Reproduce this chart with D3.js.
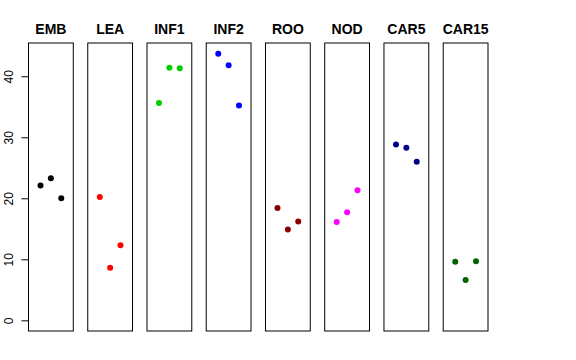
<!DOCTYPE html>
<html>
<head>
<meta charset="utf-8">
<script src="https://d3js.org/d3.v7.min.js"></script>
<style>
  body { margin: 0; background: #fff; }
  svg { display: block; font-family: "Liberation Sans", Arial, sans-serif; }
</style>
</head>
<body>
<svg width="576" height="360"></svg>
<script>
// one column per sample group, three replicates each
const categories = ["EMB", "LEA", "INF1", "INF2", "ROO", "NOD", "CAR5", "CAR15"];
const colors = ["#000000", "#FF0000", "#00CD00", "#0000FF", "#8B0000", "#FF00FF", "#00008B", "#006400"];
const rep1 = [22.1, 20.2, 35.6, 43.7, 18.4, 16.1, 28.8, 9.6];
const rep2 = [23.3, 8.6, 41.4, 41.8, 14.9, 17.7, 28.3, 6.6];
const rep3 = [20.0, 12.3, 41.3, 35.2, 16.2, 21.3, 26.0, 9.7];
const yTicks = [0, 10, 20, 30, 40];

const svg = d3.select("svg");
const plotTop = 43, plotBottom = 331;

const maxVal = d3.max([...rep1, ...rep2, ...rep3]);
const yPad = maxVal * 0.04;
const y = d3.scaleLinear().domain([-yPad, maxVal + yPad]).range([plotBottom, plotTop]);

const band = d3.scaleBand().domain(categories).range([28.5, 488]).paddingInner(0.244).paddingOuter(0);
const inner = d3.scaleLinear().domain([-0.16, 4.16]).range([0, band.bandwidth()]);

const panels = svg.append("g").selectAll("g")
  .data(categories.map((c, i) => ({ name: c, color: colors[i], vals: [rep1[i], rep2[i], rep3[i]] })))
  .enter().append("g")
  .attr("transform", d => `translate(${band(d.name)},0)`);

panels.append("rect")
  .attr("x", 0).attr("y", plotTop)
  .attr("width", band.bandwidth()).attr("height", plotBottom - plotTop)
  .attr("fill", "none").attr("stroke", "#000").attr("stroke-width", 1);

panels.append("text")
  .attr("x", band.bandwidth() / 2).attr("y", 34)
  .attr("text-anchor", "middle")
  .attr("font-weight", "bold").attr("font-size", 14)
  .text(d => d.name);

panels.selectAll("circle")
  .data(d => d.vals.map((v, j) => ({ v, j, color: d.color })))
  .enter().append("circle")
  .attr("cx", d => inner(d.j + 1))
  .attr("cy", d => y(d.v))
  .attr("r", 3)
  .attr("fill", d => d.color);

// y axis on the first panel
const axis = svg.append("g")
  .attr("transform", `translate(${band(categories[0])},0)`)
  .call(d3.axisLeft(y).tickValues(yTicks).tickSize(7).tickSizeOuter(0));
axis.select(".domain").remove();
axis.append("line")
  .attr("x1", 0).attr("x2", 0)
  .attr("y1", y(yTicks[0])).attr("y2", y(yTicks[yTicks.length - 1]))
  .attr("stroke", "#000");
axis.selectAll(".tick line").attr("stroke", "#000");
axis.selectAll(".tick text")
  .attr("font-size", 12).attr("font-family", "Liberation Sans, Arial, sans-serif")
  .attr("fill", "#000")
  .attr("x", null).attr("dy", null)
  .attr("text-anchor", "middle")
  .attr("transform", "translate(-16,0) rotate(-90)");
</script>
</body>
</html>
